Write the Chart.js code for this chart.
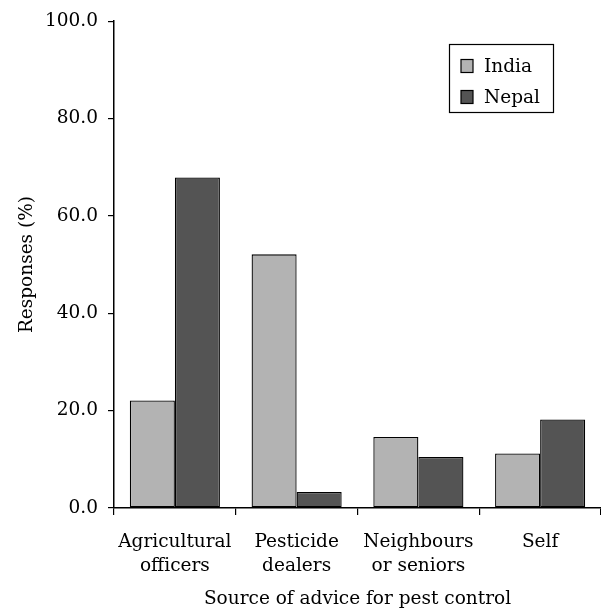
<!DOCTYPE html>
<html>
<head>
<meta charset="utf-8">
<script src="https://cdn.jsdelivr.net/npm/chart.js@4"></script>
<style>
  html, body { margin: 0; padding: 0; background: #fff; }
  #wrap { width: 601px; height: 610px; position: relative; }
</style>
</head>
<body>
<div id="wrap"><canvas id="adviceChart"></canvas></div>
<script>
// data
const categories = [["Agricultural", "officers"], ["Pesticide", "dealers"], ["Neighbours", "or seniors"], ["Self"]];
const indiaValues = [22.1, 52.1, 14.6, 11.2];
const nepalValues = [67.9, 3.3, 10.5, 18.2];
const yTicks = [0, 20, 40, 60, 80, 100];
const xTitle = "Source of advice for pest control";
const yTitle = "Responses (%)";

const FONT = "'DejaVu Serif', serif";

// boxed legend drawn inside the plot, top right
const boxLegend = {
    id: "boxLegend",
    afterDraw(chart) {
        const c = chart.ctx;
        c.save();
        c.strokeStyle = "#000";
        c.lineWidth = 1.2;
        c.strokeRect(449.5, 44.5, 104, 68);
        c.font = "18.5px " + FONT;
        c.textBaseline = "middle";
        chart.data.datasets.forEach((ds, i) => {
            const y = 66 + i * 31;
            c.fillStyle = ds.backgroundColor;
            c.fillRect(461, y - 6.5, 12, 13);
            c.strokeRect(461, y - 6.5, 12, 13);
            c.fillStyle = "#000";
            c.fillText(ds.label, 484, y + 1);
        });
        c.restore();
    }
};

new Chart(document.getElementById("adviceChart"), {
    type: "bar",
    data: {
        labels: categories,
        datasets: [
            {
                label: "India",
                data: indiaValues,
                backgroundColor: "#b3b3b3",
                borderColor: "#000",
                borderWidth: 1.3,
                borderSkipped: false
            },
            {
                label: "Nepal",
                data: nepalValues,
                backgroundColor: "#545454",
                borderColor: "#000",
                borderWidth: 1.3,
                borderSkipped: false
            }
        ]
    },
    options: {
        responsive: true,
        maintainAspectRatio: false,
        animation: false,
        layout: { padding: { top: 12, right: 0, left: 0, bottom: 0 } },
        datasets: {
            bar: { categoryPercentage: 0.74, barPercentage: 1.0 }
        },
        scales: {
            x: {
                grid: {
                    offset: true,
                    drawOnChartArea: false,
                    drawTicks: true,
                    tickLength: 7,
                    color: "#000",
                    lineWidth: 1.2
                },
                border: { color: "#000", width: 1.5 },
                ticks: {
                    color: "#000",
                    font: { family: FONT, size: 18.5, lineHeight: 1.3 },
                    maxRotation: 0,
                    autoSkip: false,
                    padding: 15
                },
                title: {
                    display: true,
                    text: xTitle,
                    color: "#000",
                    font: { family: FONT, size: 18.5 },
                    padding: { top: 0, bottom: 0 }
                },
                afterFit(scale) { scale.height = 102; }
            },
            y: {
                min: 0,
                max: 100,
                afterBuildTicks(scale) {
                    scale.ticks = yTicks.map(v => ({ value: v }));
                },
                grid: {
                    drawOnChartArea: false,
                    drawTicks: true,
                    tickLength: 6,
                    color: "#000",
                    lineWidth: 1.2
                },
                border: { color: "#000", width: 1.5 },
                ticks: {
                    color: "#000",
                    font: { family: FONT, size: 18.5 },
                    padding: 10,
                    callback: v => v.toFixed(1)
                },
                title: {
                    display: true,
                    text: yTitle,
                    color: "#000",
                    font: { family: FONT, size: 18.5 },
                    padding: { top: 16, bottom: 6 }
                },
                afterFit(scale) { scale.width = 114; }
            }
        },
        plugins: {
            legend: { display: false },
            tooltip: { enabled: false }
        }
    },
    plugins: [boxLegend]
});
</script>
</body>
</html>
